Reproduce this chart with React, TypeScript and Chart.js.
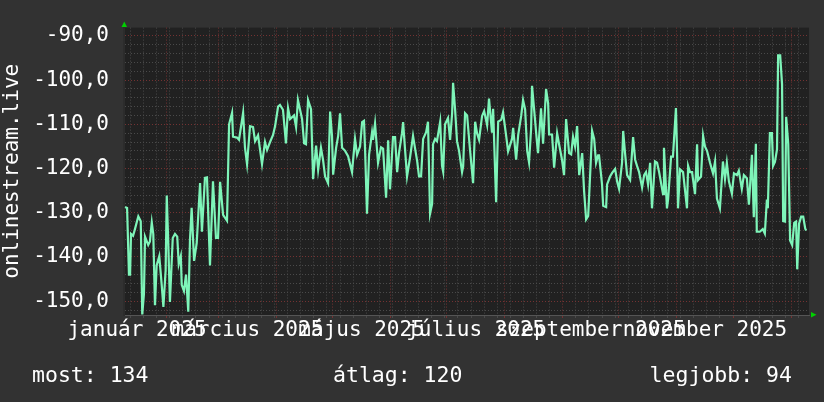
import React, { useEffect, useRef } from 'react';
import { Chart, registerables } from 'chart.js';

Chart.register(...registerables);

// ---- data (day offsets from 1 Jan 2025, values) ----
const sampleDays = [
  9.1, 10.2, 11.2, 11.8, 12.3, 13.4, 14.4, 16.2, 17.5, 18.3,
  19.2, 19.8, 21.5, 22.4, 23.4, 24.2, 25.1, 26.0, 27.4, 28.7,
  29.6, 30.8, 31.4, 32.2, 33.1, 34.6, 35.8, 37.0, 37.8, 38.9,
  39.4, 40.6, 41.7, 42.9, 43.8, 44.7, 46.0, 47.4, 49.2, 50.2,
  51.8, 52.9, 54.5, 56.1, 57.7, 58.8, 59.9, 61.5, 63.6, 64.7,
  66.3, 66.8, 68.9, 70.0, 72.2, 73.2, 74.3, 75.9, 77.5, 78.6,
  80.2, 82.3, 83.9, 85.0, 86.6, 88.2, 89.3, 90.9, 91.9, 93.5,
  95.1, 96.2, 97.3, 99.4, 100.5, 101.5, 103.7, 104.8, 105.8, 106.9,
  108.5, 109.6, 111.2, 112.3, 113.8, 114.9, 116.0, 117.6, 118.7, 119.7,
  120.3, 121.9, 123.0, 124.0, 125.1, 126.7, 128.3, 130.4, 132.0, 133.1,
  134.7, 135.8, 136.8, 137.4, 138.4, 139.5, 141.1, 141.6, 142.7, 144.3,
  145.9, 147.0, 148.6, 149.7, 150.7, 152.3, 153.4, 154.5, 155.5, 157.1,
  157.7, 158.7, 159.8, 161.4, 163.0, 164.1, 165.2, 166.2, 167.3, 168.4,
  170.0, 171.0, 172.1, 173.2, 173.7, 174.8, 175.8, 177.5, 178.5, 179.1,
  180.1, 181.7, 182.8, 183.9, 184.4, 185.5, 186.5, 187.6, 189.2, 189.8,
  190.8, 191.9, 193.5, 195.1, 196.2, 197.2, 198.3, 199.9, 201.0, 202.6,
  203.6, 205.2, 205.8, 207.4, 208.5, 210.1, 211.1, 212.7, 213.8, 215.9,
  216.5, 218.1, 219.2, 220.8, 221.8, 222.9, 224.0, 225.0, 226.1, 226.6,
  228.2, 229.3, 229.8, 231.4, 232.5, 234.1, 235.2, 235.7, 237.3, 238.4,
  240.0, 241.0, 242.6, 243.7, 244.8, 246.4, 247.5, 248.5, 249.6, 250.7,
  251.8, 253.4, 254.4, 255.5, 256.6, 257.6, 258.7, 259.8, 260.8, 261.9,
  262.4, 263.5, 264.0, 264.6, 266.2, 266.7, 268.3, 269.4, 271.0, 272.1,
  273.1, 274.7, 275.3, 276.3, 277.4, 279.0, 280.6, 281.7, 282.7, 283.8,
  285.4, 286.5, 287.5, 288.6, 289.7, 290.7, 292.3, 293.4, 294.5, 296.6,
  297.1, 298.7, 299.3, 300.9, 301.9, 303.5, 304.1, 304.6, 305.7, 307.3,
  309.4, 310.0, 311.0, 312.1, 313.7, 314.8, 315.3, 316.9, 318.0, 319.0,
  320.1, 321.7, 323.3, 324.4, 325.4, 327.0, 328.6, 329.7, 330.7, 331.8,
  333.4, 334.5, 336.1, 337.1, 338.7, 339.8, 341.4, 342.5, 344.1, 345.1,
  346.2, 346.7, 348.3, 349.9, 351.0, 352.1, 352.6, 353.7, 354.8, 355.4,
  356.4, 357.5, 358.1, 359.2, 360.2, 360.8, 361.8, 362.4, 363.5, 364.5,
  365.6, 366.7, 367.7, 368.3, 369.3, 370.4, 371.5, 372.6, 373.1,
];

const sampleValues = [
  -128.7, -128.9, -144.0, -144.0, -134.8, -135.2, -133.7, -130.8, -131.9, -153.0,
  -148.4, -135.4, -137.3, -136.5, -132.2, -134.8, -150.9, -141.9, -139.8, -146.3,
  -151.3, -143.0, -126.1, -136.9, -150.2, -135.7, -134.8, -135.4, -141.6, -139.8,
  -146.3, -147.7, -144.0, -152.4, -136.2, -128.9, -140.9, -136.9, -123.3, -134.3,
  -122.1, -122.0, -141.9, -122.9, -135.7, -135.7, -123.0, -130.5, -131.8, -110.0,
  -107.4, -112.8, -113.0, -113.5, -107.4, -115.3, -119.0, -110.4, -110.6, -113.8,
  -112.5, -119.0, -114.0, -115.8, -114.0, -112.4, -110.4, -106.0, -105.6, -106.7,
  -114.3, -106.3, -108.8, -108.0, -110.6, -104.5, -108.8, -114.3, -114.5, -104.5,
  -106.6, -122.4, -114.8, -120.3, -115.3, -118.0, -121.8, -123.3, -107.1, -112.6,
  -121.4, -115.3, -112.6, -107.5, -115.3, -116.0, -117.2, -120.8, -113.3, -116.9,
  -115.0, -109.5, -109.2, -116.0, -130.2, -116.9, -111.8, -113.5, -109.8, -118.7,
  -115.2, -115.5, -126.6, -113.6, -124.7, -112.9, -112.9, -120.8, -116.5, -112.0,
  -109.5, -115.5, -121.8, -117.5, -112.6, -115.5, -118.3, -121.8, -121.8, -113.3,
  -111.8, -109.4, -130.2, -128.0, -114.5, -113.3, -113.8, -109.4, -119.4, -120.7,
  -110.0, -108.6, -113.5, -107.5, -100.6, -106.8, -113.8, -116.0, -120.8, -119.5,
  -107.5, -108.0, -116.0, -123.3, -109.4, -112.0, -113.5, -108.1, -107.0, -110.2,
  -104.2, -111.9, -106.5, -127.6, -109.4, -109.0, -107.3, -112.4, -116.1, -113.3,
  -110.8, -118.0, -112.4, -108.1, -104.5, -106.6, -116.0, -118.6, -111.0, -101.3,
  -109.0, -114.4, -116.5, -106.4, -114.4, -102.0, -105.3, -112.3, -112.3, -119.8,
  -112.0, -114.4, -118.0, -121.5, -108.8, -116.5, -116.8, -112.8, -115.0, -110.4,
  -121.5, -116.5, -125.0, -131.5, -130.7, -121.8, -111.5, -113.3, -118.7, -117.0,
  -117.0, -121.5, -123.6, -128.4, -128.7, -123.6, -121.8, -121.0, -120.1, -123.0,
  -124.6, -118.7, -111.5, -116.5, -121.5, -122.6, -112.9, -118.0, -119.4, -120.8,
  -124.3, -121.5, -120.8, -123.6, -118.7, -129.0, -118.4, -118.7, -120.8, -125.8,
  -115.3, -129.0, -127.0, -117.3, -117.3, -106.3, -116.5, -129.0, -120.2, -120.8,
  -129.0, -119.4, -120.8, -120.8, -125.8, -114.5, -122.6, -121.8, -112.6, -115.0,
  -116.0, -118.7, -121.1, -118.4, -126.8, -129.0, -118.4, -122.4, -118.7, -122.9,
  -125.7, -121.1, -121.5, -120.5, -124.6, -121.5, -122.2, -128.2, -116.9, -131.0,
  -114.4, -134.3, -134.3, -133.7, -134.7, -127.0, -129.0, -112.0, -112.0, -119.4,
  -118.5, -115.7, -94.4, -94.4, -100.9, -131.9, -132.0, -108.3, -114.4, -136.3,
  -137.3, -132.3, -132.0, -142.8, -132.5, -130.9, -130.9, -133.6, -134.0,
];

const monthStartDays = [31, 59, 90, 120, 151, 181, 212, 243, 273, 304, 334, 365];
const firstMondayDay = 12;
const monthLabelDays = [15.5, 74.5, 135.5, 196.5, 258, 319];
const monthLabels = [
  'január 2025',
  'március 2025',
  'május 2025',
  'július 2025',
  'szeptember 2025',
  'november 2025',
];
const yGridStep = 2;
const yLabelStep = 10;
const xMin = 8.55;
const xMax = 374.6;
const yMin = -153.13;
const yMax = -88.12;
const yAxisTitle = 'onlinestream.live';
const footerLeft = 'most: 134';
const footerCenter = 'átlag: 120';
const footerRight = 'legjobb: 94';

const FONT = "'DejaVu Sans Mono', monospace";
const TEXT = '#ffffff';
const GRID_MINOR = '#4a4a4a';
const GRID_MAJOR = '#743232';

const gridDays: number[] = (() => {
  const s = new Set<number>(monthStartDays);
  for (let d = firstMondayDay; d <= xMax; d += 7) s.add(d);
  return Array.from(s).filter((d) => d >= xMin && d <= xMax).sort((a, b) => a - b);
})();

const yGridValues: number[] = (() => {
  const out: number[] = [];
  const start = Math.ceil(yMin / yGridStep) * yGridStep;
  for (let v = start; v <= yMax; v += yGridStep) out.push(v);
  return out;
})();

const fmtTick = (v: number) => v.toFixed(1).replace('.', ',');

const rrdPlugin = {
  id: 'rrdDecor',
  beforeDraw(chart: any) {
    const { ctx, chartArea: a, width, height } = chart;
    ctx.save();
    ctx.fillStyle = '#323232';
    ctx.fillRect(0, 0, width, height);
    ctx.fillStyle = '#212121';
    ctx.fillRect(a.left, a.top, a.right - a.left, a.bottom - a.top);
    ctx.restore();
  },
  afterDraw(chart: any) {
    const { ctx, chartArea: a } = chart;
    ctx.save();
    ctx.fillStyle = '#00d000';
    ctx.beginPath();
    ctx.moveTo(a.left - 2.5, a.top - 0.5);
    ctx.lineTo(a.left + 3, a.top - 0.5);
    ctx.lineTo(a.left + 0.25, a.top - 6);
    ctx.closePath();
    ctx.fill();
    ctx.beginPath();
    ctx.moveTo(a.right + 2, a.bottom - 3);
    ctx.lineTo(a.right + 2, a.bottom + 2.5);
    ctx.lineTo(a.right + 7.5, a.bottom - 0.25);
    ctx.closePath();
    ctx.fill();

    ctx.fillStyle = TEXT;
    ctx.font = `21.5px ${FONT}`;
    ctx.textBaseline = 'alphabetic';
    const y = 382;
    ctx.textAlign = 'left';
    ctx.fillText(footerLeft, 32, y);
    ctx.fillText(footerCenter, 333, y);
    ctx.textAlign = 'right';
    ctx.fillText(footerRight, 792, y);
    ctx.restore();
  },
};

export default function App() {
  const canvasRef = useRef<HTMLCanvasElement | null>(null);

  useEffect(() => {
    const canvas = canvasRef.current;
    if (!canvas) return;
    const points = sampleDays.map((d, i) => ({ x: d, y: sampleValues[i] }));
    const gridColor = (ctx: any) => {
      const t = ctx.tick;
      if (!t) return GRID_MINOR;
      return monthStartDays.includes(t.value) ? GRID_MAJOR : GRID_MINOR;
    };
    const yGridColor = (ctx: any) => {
      const t = ctx.tick;
      if (!t) return GRID_MINOR;
      return Math.abs(t.value % yLabelStep) < 1e-6 ? GRID_MAJOR : GRID_MINOR;
    };

    const chart = new Chart(canvas, {
      type: 'line',
      data: {
        datasets: [
          {
            data: points,
            borderColor: '#7ef5b9',
            borderWidth: 2.2,
            pointRadius: 0,
            tension: 0,
            fill: false,
            xAxisID: 'x',
            yAxisID: 'y',
          },
        ],
      },
      options: {
        animation: false,
        responsive: false,
        devicePixelRatio: 1,
        events: [],
        layout: { padding: { left: 0, right: 15, top: 14, bottom: 0 } },
        plugins: {
          legend: { display: false },
          tooltip: { enabled: false },
          title: { display: false },
        },
        scales: {
          x: {
            type: 'linear',
            position: 'bottom',
            min: xMin,
            max: xMax,
            afterBuildTicks: (s: any) => {
              s.ticks = gridDays.map((v) => ({ value: v }));
            },
            ticks: { display: false },
            grid: {
              color: gridColor,
              tickColor: gridColor,
              lineWidth: 1,
              drawTicks: true,
              tickLength: 3,
            },
            border: { display: true, color: '#555555', width: 1, dash: [1, 2] },
            afterFit: (s: any) => {
              s.height = 0;
            },
          },
          xl: {
            type: 'linear',
            position: 'bottom',
            min: xMin,
            max: xMax,
            afterBuildTicks: (s: any) => {
              s.ticks = monthLabelDays.map((v) => ({ value: v }));
            },
            grid: { display: false, drawTicks: false },
            border: { display: false },
            ticks: {
              autoSkip: false,
              maxRotation: 0,
              minRotation: 0,
              padding: 3,
              color: TEXT,
              font: { family: FONT, size: 21 },
              callback: (_v: any, i: number) => monthLabels[i],
            },
            afterFit: (s: any) => {
              s.height = 87;
            },
          },
          y: {
            type: 'linear',
            position: 'left',
            min: yMin,
            max: yMax,
            afterBuildTicks: (s: any) => {
              s.ticks = yGridValues.map((v) => ({ value: v }));
            },
            ticks: {
              autoSkip: false,
              padding: 15,
              color: TEXT,
              font: { family: FONT, size: 21 },
              callback: (v: any) =>
                Math.abs(Number(v) % yLabelStep) < 1e-6 ? fmtTick(Number(v)) : '',
            },
            grid: { color: yGridColor, lineWidth: 1, drawTicks: false },
            border: { display: true, color: '#2c2c2c', width: 2, dash: [1, 2] },
            title: {
              display: true,
              text: yAxisTitle,
              color: TEXT,
              font: { family: FONT, size: 21 },
              padding: 0,
            },
            afterFit: (s: any) => {
              s.width = 124;
            },
          },
        },
      },
      plugins: [rrdPlugin],
    } as any);

    return () => chart.destroy();
  }, []);

  return (
    <div style={{ position: 'absolute', left: 0, top: 0, width: 824, height: 402 }}>
      <canvas ref={canvasRef} width={824} height={402} style={{ display: 'block' }} />
    </div>
  );
}
